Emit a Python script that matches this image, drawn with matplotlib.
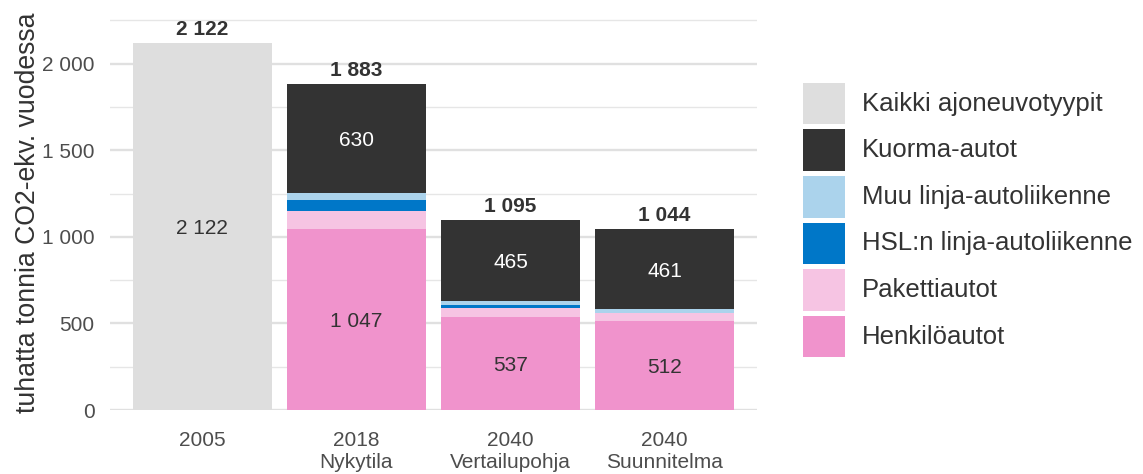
import matplotlib
matplotlib.use("Agg")
import matplotlib.pyplot as plt
from matplotlib.patches import Rectangle
import numpy as np

plt.rcParams['font.family'] = ['Liberation Sans', 'DejaVu Sans']

categories = ["2005", "2018\nNykytila", "2040\nVertailupohja", "2040\nSuunnitelma"]
series_names = ["Kaikki ajoneuvotyypit", "Henkilöautot", "Pakettiautot",
                "HSL:n linja-autoliikenne", "Muu linja-autoliikenne", "Kuorma-autot"]
kaikki = [2122, 0, 0, 0]
henkilo = [0, 1047, 537, 512]
paketti = [0, 100, 50, 47]
hsl = [0, 66, 20, 0]
muu = [0, 40, 23, 24]
kuorma = [0, 630, 465, 461]
totals = [2122, 1883, 1095, 1044]
legend_order = ["Kaikki ajoneuvotyypit", "Kuorma-autot", "Muu linja-autoliikenne",
                "HSL:n linja-autoliikenne", "Pakettiautot", "Henkilöautot"]

colors = {
    "Kaikki ajoneuvotyypit": "#DEDEDE",
    "Henkilöautot": "#F093CC",
    "Pakettiautot": "#F6C4E3",
    "HSL:n linja-autoliikenne": "#0077C8",
    "Muu linja-autoliikenne": "#ABD3EC",
    "Kuorma-autot": "#333333",
}
label_series = {"Kaikki ajoneuvotyypit": "#333333", "Henkilöautot": "#333333",
                "Kuorma-autot": "#FFFFFF"}

def fmt(v):
    return f"{v:,}".replace(",", " ")

W, H = 1143, 474
fig = plt.figure(figsize=(W / 100, H / 100), dpi=100)
ax = fig.add_axes([110/W, 1 - 410/H, 647/W, 405.3/H])

x = np.arange(1, len(categories) + 1)
data = [kaikki, henkilo, paketti, hsl, muu, kuorma]
bottom = np.zeros(len(categories))
for name, vals in zip(series_names, data):
    vals = np.array(vals, dtype=float)
    ax.bar(x, vals, width=0.9, bottom=bottom, color=colors[name],
           linewidth=0, zorder=2, label=name)
    if name in label_series:
        for xi, b, v in zip(x, bottom, vals):
            if v > 0:
                ax.text(xi, b + v / 2, fmt(int(v)), ha='center', va='center_baseline',
                        fontsize=15, color=label_series[name], zorder=3)
    bottom = bottom + vals

for xi, t in zip(x, totals):
    ax.annotate(fmt(t), (xi, t), xytext=(0, 11.2), textcoords='offset points',
                ha='center', va='center_baseline', fontsize=15, fontweight='bold',
                color='#333333')

ax.set_xlim(0.4, 4.6)
ax.set_ylim(0, 2341)
ax.set_xticks(x)
ax.set_xticklabels(categories)
ax.set_yticks([0, 500, 1000, 1500, 2000])
ax.set_yticklabels([fmt(v) for v in [0, 500, 1000, 1500, 2000]])
ax.set_yticks([250, 750, 1250, 1750, 2250], minor=True)
ax.tick_params(axis='both', which='both', length=0, labelsize=15, colors='#4D4D4D')
ax.tick_params(axis='y', pad=11)
ax.tick_params(axis='x', pad=15)
ax.grid(axis='y', which='major', color='#E0E0E0', linewidth=1.7)
ax.grid(axis='y', which='minor', color='#E6E6E6', linewidth=1.0)
ax.set_axisbelow(True)
for s in ax.spines.values():
    s.set_visible(False)

fig.text(28/W, 1 - 213/H, "tuhatta tonnia CO2-ekv. vuodessa", rotation=90,
         ha='center', va='center', fontsize=19.2, color='#333333')

# legend (manual, to match key size and spacing)
key_x, key_w, key_h, key_top, step = 803, 41.6, 41.6, 82.7, 46.6
for i, name in enumerate(legend_order):
    top = key_top + i * step
    fig.patches.append(Rectangle((key_x / W, 1 - (top + key_h) / H), key_w / W, key_h / H,
                                 transform=fig.transFigure, facecolor=colors[name],
                                 edgecolor='none', figure=fig))
    fig.text(861.7 / W, 1 - (top + key_h / 2) / H, name, ha='left', va='center',
             fontsize=18.5, color='#333333')

fig.savefig("out.png", dpi=100)
